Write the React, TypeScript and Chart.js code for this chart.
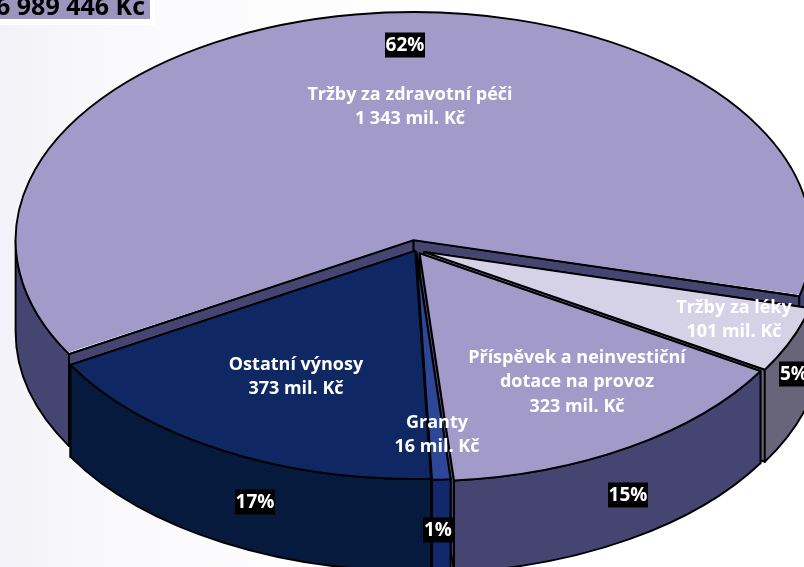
import React, { useEffect, useRef } from "react";
import { Chart, registerables } from "chart.js";

Chart.register(...registerables);

const categories = ["Tržby za zdravotní péči", "Tržby za léky", "Příspěvek a neinvestiční dotace na provoz", "Granty", "Ostatní výnosy"];
const values = [1343, 101, 323, 16, 373];
const percents = ["62%", "5%", "15%", "1%", "17%"];
const topColors = ["#A29AC8", "#D5D2E8", "#A29AC8", "#2C4798", "#0F2763"];
const wallColors = ["#464571", "#686479", "#464571", "#11286A", "#061A3D"];
const offsets = [40, 20, 16, 8, 4];
const totalTitle = "6 989 446 Kč";

// Presentation only: text anchors
const sliceTextLayout = [
  { lines: ["Tržby za zdravotní péči", "1 343 mil. Kč"], x: 410, y: 94.5, step: 24 },
  { lines: ["Tržby za léky", "101 mil. Kč"], x: 734, y: 307.5, step: 24 },
  { lines: ["Příspěvek a neinvestiční", "dotace na provoz", "323 mil. Kč"], x: 577, y: 357.5, step: 24.5 },
  { lines: ["Granty", "16 mil. Kč"], x: 437, y: 422.5, step: 24 },
  { lines: ["Ostatní výnosy", "373 mil. Kč"], x: 296, y: 364.5, step: 24 },
];
const percentLayout = [
  { x: 405, y: 45, w: 40 },
  { x: 794, y: 374, w: 30 },
  { x: 628, y: 495, w: 40 },
  { x: 438, y: 530, w: 30 },
  { x: 255, y: 502, w: 40 },
];

const CX = 416;
const RADIUS = 228;
const SCALE_X = 398 / 228;
const DEPTH = 92;
const FONT = '"Open Sans", sans-serif';

function scaleAboutCentre(ctx: CanvasRenderingContext2D) {
  ctx.translate(CX, 0);
  ctx.scale(SCALE_X, 1);
  ctx.translate(-CX, 0);
}

// ArcElement.draw grows an offset slice's radius by this much
function radiusGrowth(el: any) {
  const offset = (el.options.offset || 0) / 4;
  const fix = 1 - Math.sin(Math.min(Math.PI, el.circumference || 0));
  return offset * fix;
}

// Same shift that ArcElement.draw applies for an offset slice
function geometry(el: any) {
  const offset = (el.options.offset || 0) / 4;
  const half = (el.startAngle + el.endAngle) / 2;
  return {
    x: el.x + Math.cos(half) * offset,
    y: el.y + Math.sin(half) * offset,
    r: el.outerRadius + radiusGrowth(el),
    a: el.startAngle,
    b: el.endAngle,
  };
}

function strokeOut(ctx: CanvasRenderingContext2D, fill?: string) {
  if (fill) {
    ctx.fillStyle = fill;
    ctx.fill();
  }
  ctx.strokeStyle = "#000";
  ctx.lineWidth = 1.9;
  ctx.lineJoin = "round";
  ctx.stroke();
}

const pie3d = {
  id: "pie3d",
  afterDatasetsUpdate(chart: any) {
    chart.getDatasetMeta(0).data.forEach((el: any) => {
      el.outerRadius = RADIUS - radiusGrowth(el);
    });
  },
  beforeDatasetsDraw(chart: any) {
    const ctx: CanvasRenderingContext2D = chart.ctx;
    const arcs = chart.getDatasetMeta(0).data;
    // cut faces, then outer walls
    arcs.forEach((el: any, i: number) => {
      const g = geometry(el);
      [g.a, g.b].forEach((ang) => {
        ctx.save();
        scaleAboutCentre(ctx);
        ctx.beginPath();
        ctx.moveTo(g.x, g.y);
        ctx.lineTo(g.x + Math.cos(ang) * g.r, g.y + Math.sin(ang) * g.r);
        ctx.lineTo(g.x + Math.cos(ang) * g.r, g.y + Math.sin(ang) * g.r + DEPTH);
        ctx.lineTo(g.x, g.y + DEPTH);
        ctx.closePath();
        ctx.restore();
        strokeOut(ctx, wallColors[i]);
      });
    });
    arcs.forEach((el: any, i: number) => {
      const g = geometry(el);
      for (let k = -1; k <= 1; k++) {
        const lo = Math.max(g.a, 2 * Math.PI * k);
        const hi = Math.min(g.b, 2 * Math.PI * k + Math.PI);
        if (lo >= hi) continue;
        ctx.save();
        scaleAboutCentre(ctx);
        ctx.beginPath();
        ctx.arc(g.x, g.y, g.r, lo, hi);
        ctx.arc(g.x, g.y + DEPTH, g.r, hi, lo, true);
        ctx.closePath();
        ctx.restore();
        strokeOut(ctx, wallColors[i]);
      }
    });
    ctx.save();
    scaleAboutCentre(ctx);
  },
  afterDatasetsDraw(chart: any) {
    const ctx: CanvasRenderingContext2D = chart.ctx;
    ctx.restore();
    const arcs = chart.getDatasetMeta(0).data;
    arcs.forEach((el: any) => {
      const g = geometry(el);
      ctx.save();
      scaleAboutCentre(ctx);
      ctx.beginPath();
      ctx.moveTo(g.x, g.y);
      ctx.arc(g.x, g.y, g.r, g.a, g.b);
      ctx.closePath();
      ctx.restore();
      strokeOut(ctx);
    });

    ctx.textAlign = "center";
    ctx.textBaseline = "middle";
    ctx.font = `700 18px ${FONT}`;
    ctx.fillStyle = "#fff";
    sliceTextLayout.forEach((t) => {
      t.lines.forEach((line, n) => ctx.fillText(line, t.x, t.y + n * t.step));
    });
    percents.forEach((p, i) => {
      const l = percentLayout[i];
      ctx.fillStyle = "#000";
      ctx.fillRect(l.x - l.w / 2, l.y - 12.5, l.w, 25);
      ctx.fillStyle = "#fff";
      ctx.font = `700 19px ${FONT}`;
      ctx.fillText(p, l.x, l.y + 1);
    });

    ctx.fillStyle = "#fff";
    ctx.fillRect(0, 0, 155, 25);
    ctx.fillStyle = "#9C95BE";
    ctx.fillRect(0, 0, 150, 19);
    ctx.fillStyle = "#000";
    ctx.textAlign = "left";
    ctx.textBaseline = "alphabetic";
    ctx.font = `700 25px ${FONT}`;
    ctx.fillText(totalTitle, -4, 15);
  },
};

export default function App() {
  const ref = useRef<HTMLCanvasElement>(null);
  useEffect(() => {
    const chart = new Chart(ref.current!, {
      type: "pie",
      data: {
        labels: categories,
        datasets: [
          {
            data: values,
            backgroundColor: topColors,
            offset: offsets,
            borderWidth: 0,
            clip: false,
            radius: RADIUS,
          } as any,
        ],
      },
      options: {
        animation: false,
        responsive: false,
        rotation: -120,
        events: [],
        layout: { padding: { left: 28, right: 0, top: 0, bottom: 67 } },
        plugins: { legend: { display: false }, tooltip: { enabled: false }, title: { display: false } },
      } as any,
      plugins: [pie3d],
    });
    return () => chart.destroy();
  }, []);
  return (
    <div
      style={{
        position: "fixed",
        inset: 0,
        overflow: "hidden",
        background: "linear-gradient(to right, #f2f1f7 0px, #f7f7fa 60px, #fafafc 160px, #fdfdfe 300px, #ffffff 480px)",
      }}
    >
      <canvas ref={ref} width={804} height={567} style={{ display: "block", width: 804, height: 567 }} />
    </div>
  );
}
